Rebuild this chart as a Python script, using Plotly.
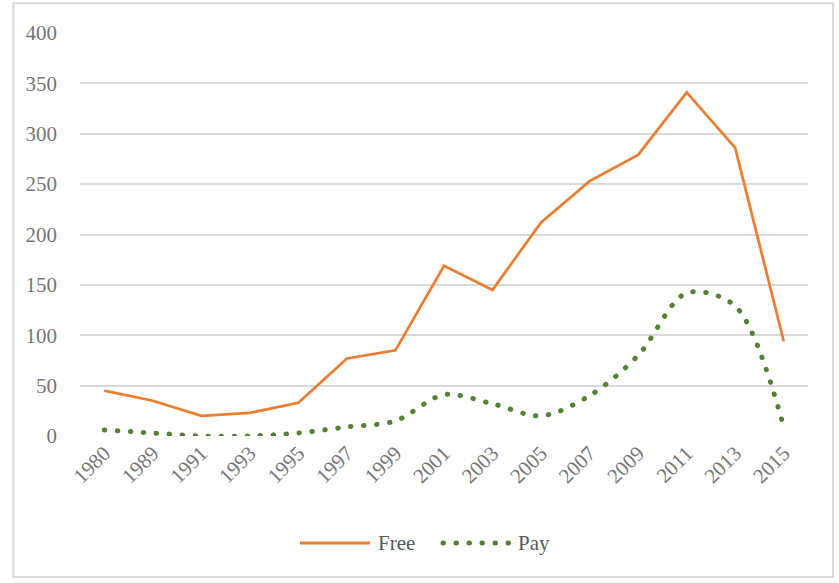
import plotly.graph_objects as go

# Release years shown on the category axis
years = ["1980", "1989", "1991", "1993", "1995", "1997", "1999", "2001",
         "2003", "2005", "2007", "2009", "2011", "2013", "2015"]

# Counts per year
free = [45, 35, 20, 23, 33, 77, 85, 169, 145, 212, 253, 279, 341, 286, 94]
pay = [6, 3, 0, 0, 3, 9, 15, 41, 32, 20, 40, 80, 142, 129, 9]

y_ticks = [0, 50, 100, 150, 200, 250, 300, 350, 400]

font_family = "Liberation Serif"
tick_color = "#767676"
legend_color = "#595959"
grid_color = "#d9d9d9"
free_color = "#ed7d31"
pay_color = "#548235"
dot_dash = "0.5px,12.5px"

fig = go.Figure()

fig.add_trace(go.Scatter(
    x=years, y=free, name="Free", mode="lines",
    line=dict(color=free_color, width=2.75),
    showlegend=False,
))

fig.add_trace(go.Scatter(
    x=years, y=pay, name="Pay", mode="lines",
    line=dict(color=pay_color, width=5, dash=dot_dash,
              shape="spline", smoothing=0.9),
    showlegend=False,
))

# Legend row below the axis: line samples plus labels
legend_y = -0.2655
shapes = [
    dict(type="rect", xref="paper", yref="paper",
         x0=-0.0915, x1=1.0345, y0=1.074, y1=-0.35,
         line=dict(color="#d9d9d9", width=2), fillcolor="rgba(0,0,0,0)",
         layer="below"),
    dict(type="line", xref="paper", yref="paper",
         x0=0.3022, x1=0.3984, y0=legend_y, y1=legend_y,
         line=dict(color=free_color, width=3)),
    dict(type="line", xref="paper", yref="paper",
         x0=0.4986, x1=0.5893, y0=legend_y, y1=legend_y,
         line=dict(color=pay_color, width=5, dash=dot_dash)),
]
annotations = [
    dict(text="Free", xref="paper", yref="paper", x=0.407, y=legend_y,
         xanchor="left", yanchor="middle", showarrow=False,
         font=dict(family=font_family, size=21, color=legend_color)),
    dict(text="Pay", xref="paper", yref="paper", x=0.5995, y=legend_y,
         xanchor="left", yanchor="middle", showarrow=False,
         font=dict(family=font_family, size=21, color=legend_color)),
]

fig.update_layout(
    width=839, height=583,
    margin=dict(l=80, r=31, t=33, b=147),
    paper_bgcolor="white",
    plot_bgcolor="white",
    font=dict(family=font_family, size=21, color=tick_color),
    showlegend=False,
    shapes=shapes,
    annotations=annotations,
)

fig.update_xaxes(
    type="category", categoryorder="array", categoryarray=years,
    range=[-0.5, len(years) - 0.5],
    tickangle=-45, showgrid=False, showline=False, ticks="",
    tickfont=dict(family=font_family, size=21, color=tick_color),
    zeroline=False,
)

fig.update_yaxes(
    range=[0, 400], tickvals=y_ticks,
    showgrid=True, gridcolor=grid_color, gridwidth=1.5,
    zeroline=False, showline=False, ticks="",
    ticklabelstandoff=22,
    tickfont=dict(family=font_family, size=21, color=tick_color),
)

# Round line caps turn the short dashes into dots
round_dots = """
document.querySelectorAll('path').forEach(function (p) {
  var d = p.style.strokeDasharray || '';
  if (d.indexOf('12.5') >= 0) { p.style.strokeLinecap = 'round'; }
});
"""

fig.write_html("out.html", post_script=round_dots)
